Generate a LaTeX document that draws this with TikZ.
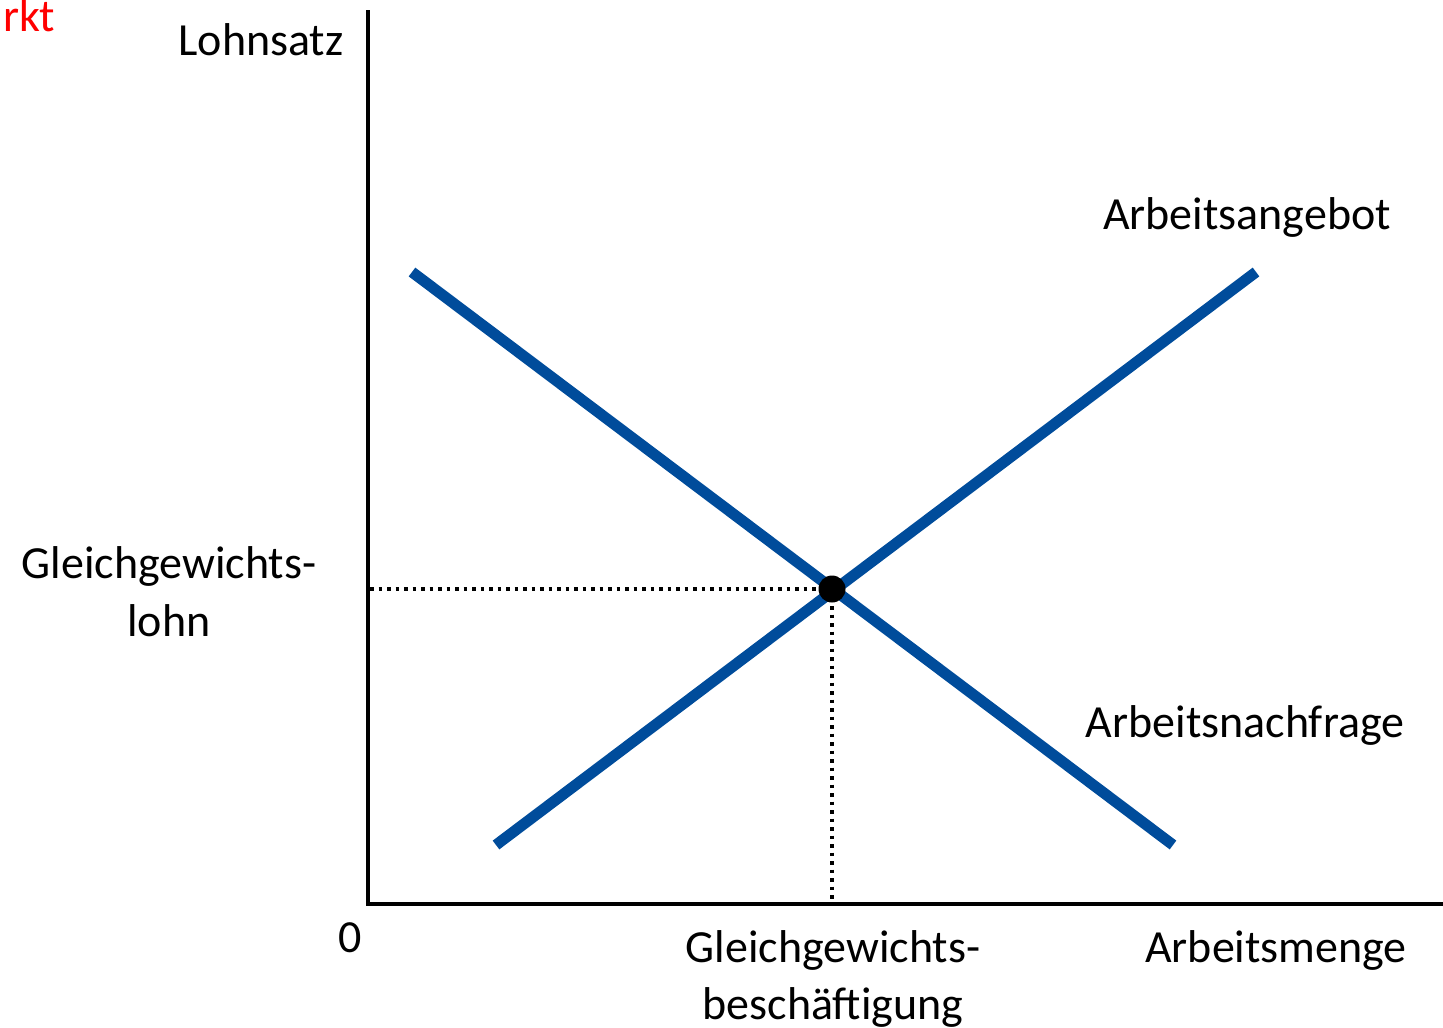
\documentclass[tikz,border=0pt]{standalone}
\usepackage{fontspec}
\setmainfont{Carlito}
\definecolor{curveblue}{RGB}{0,76,155}
\begin{document}
\begin{tikzpicture}[x=1pt,y=-1pt,
  curve/.style={draw=curveblue,line width=11pt},
  axis/.style={draw=black,line width=4pt},
  guide/.style={draw=black,line width=3.5pt,dash pattern=on 3.5pt off 5pt},
  lbl/.style={font=\fontsize{46}{58}\selectfont,inner sep=0pt,anchor=base}]
\useasboundingbox (0,0) rectangle (1443,1028);
% axes
\coordinate (ytop) at (368,10);
\coordinate (orig) at (368,904);
\coordinate (xend) at (1443,904);
\draw[axis,line join=miter] (ytop) -- (orig) -- (xend);
% curves
\coordinate (d1) at (412,272);
\coordinate (d2) at (1173,845);
\coordinate (s1) at (496,845);
\coordinate (s2) at (1256,272);
\draw[curve] (d1) -- (d2);
\draw[curve] (s1) -- (s2);
% equilibrium
\coordinate (eqc) at (832,589);
\coordinate (wy) at (370,589);
\coordinate (qx) at (832,902);
\draw[guide] (wy) -- (eqc);
\draw[guide] (eqc) -- (qx);
\node[circle,fill=black,minimum size=27pt,inner sep=0pt] (eq) at (eqc) {};
% labels
\node[lbl,text=red,anchor=base west] (rkt) at (3,31) {rkt};
\node[lbl] (lohnsatz) at (261,55) {Lohnsatz};
\node[lbl] (angebot) at (1247,229) {Arbeitsangebot};
\node[lbl] (nachfrage) at (1245,737) {Arbeitsnachfrage};
\node[lbl] (glohnA) at (169,578) {Gleichgewichts-};
\node[lbl] (glohnB) at (169,636) {lohn};
\node[lbl] (null) at (350,952) {0};
\node[lbl] (gbeschA) at (833,962) {Gleichgewichts-};
\node[lbl] (gbeschB) at (833,1019) {beschäftigung};
\node[lbl] (menge) at (1276,962) {Arbeitsmenge};
\end{tikzpicture}
\end{document}
